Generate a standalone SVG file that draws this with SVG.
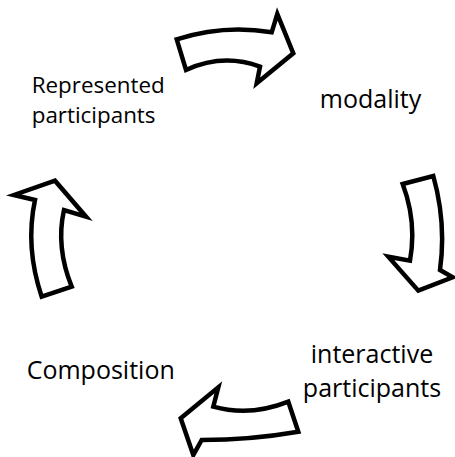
<svg xmlns="http://www.w3.org/2000/svg" width="455" height="457" viewBox="0 0 455 457">
<style>
.arrow{fill:#fff;stroke:#000;stroke-width:4.5;stroke-linejoin:miter}
.lbl{font-family:"Open Sans","Noto Sans",sans-serif;fill:#000}
</style>
<rect width="455" height="457" fill="#fff"/>
<g id="connectors">
<path id="arrow-top" class="arrow" d="M176.7,39.3 Q224,24 271.7,32.3 L277.3,14 L293.3,53.3 L256.7,83.3 L260,66.7 Q223,53 186,70 Z"/>
<path id="arrow-right" class="arrow" d="M402.7,184 L433.3,176 Q446.5,223 440,270 L452.7,277.3 L418.3,290.7 L388.3,256.7 L410,260.7 Q417,222 402.7,184 Z"/>
<path id="arrow-bottom" class="arrow" d="M288.3,401.7 Q250,417 213.3,406.7 L218.3,387.3 L180.7,418.3 L193.3,455 L201.7,440 Q250,440 298.3,431.7 Z"/>
<path id="arrow-left" class="arrow" d="M41.7,296.7 L71.7,286.7 Q55.7,247 64,210 L86,216.7 L55,180.7 L14,195 L35,200 Q25,247 41.7,296.7 Z"/>
</g>
<g id="node-represented">
<text class="lbl" font-size="22.4" x="31.7" y="93.3">Represented</text>
<text class="lbl" font-size="22.4" x="31.7" y="123.3">participants</text>
</g>
<g id="node-modality">
<text class="lbl" font-size="25" x="370.5" y="108.3" text-anchor="middle">modality</text>
</g>
<g id="node-interactive">
<text class="lbl" font-size="25" x="372" y="363.3" text-anchor="middle">interactive</text>
<text class="lbl" font-size="25" x="372" y="396.7" text-anchor="middle">participants</text>
</g>
<g id="node-composition">
<text class="lbl" font-size="25" x="26.7" y="379.3">Composition</text>
</g>
</svg>
